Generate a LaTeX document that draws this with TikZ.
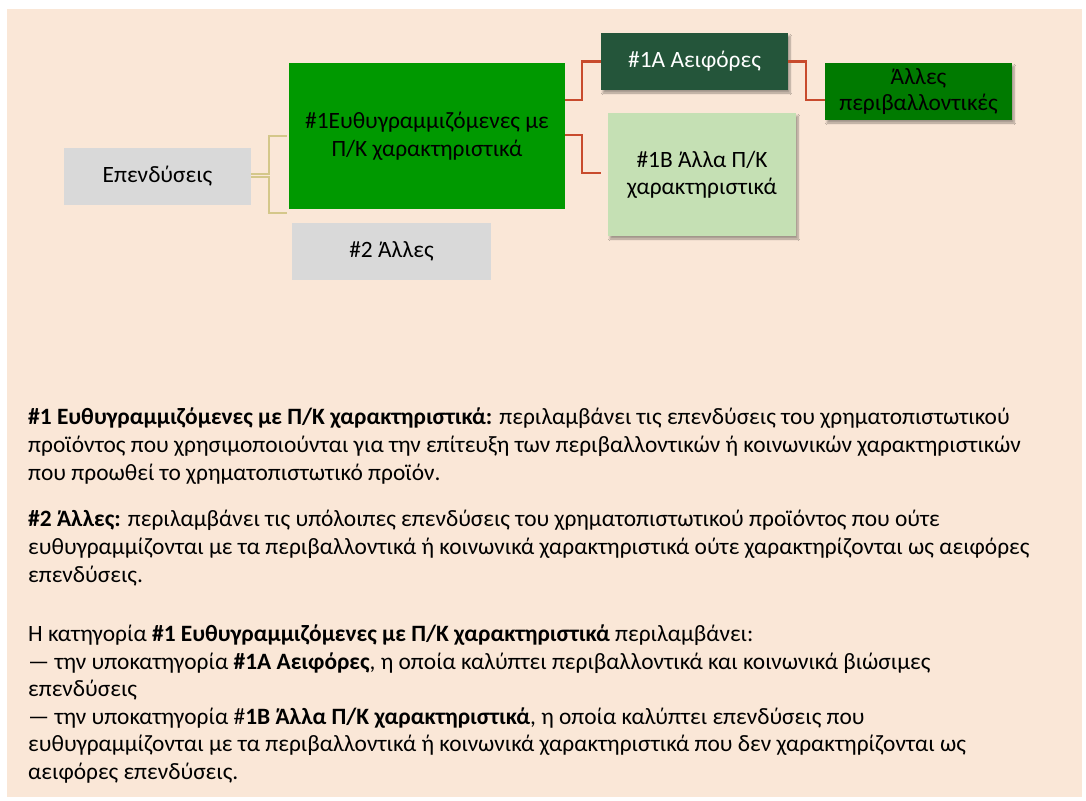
\documentclass[tikz,border=0pt]{standalone}
\usepackage{fontspec}
\setmainfont{Carlito}
\usetikzlibrary{calc,shadows.blur}
\definecolor{bgpeach}{HTML}{FAE7D7}
\definecolor{boxgray}{HTML}{D9D9D9}
\definecolor{maingreen}{HTML}{009900}
\definecolor{darkgreen}{HTML}{24553A}
\definecolor{lightgreen}{HTML}{C5E0B4}
\definecolor{envgreen}{HTML}{007A00}
\definecolor{tanline}{HTML}{D4C78A}
\definecolor{redline}{HTML}{C84B2D}
\newcommand{\bodyfont}{\fontsize{23.4}{28}\selectfont}
\tikzset{
  box/.style={rectangle, inner sep=0pt, align=center, font=\bodyfont, text=black},
  shad/.style={blur shadow={shadow xshift=2pt, shadow yshift=-3pt, shadow blur steps=6, shadow opacity=35}},
  tanconn/.style={draw=tanline, line width=2pt},
  redconn/.style={draw=redline, line width=2.5pt},
  ln/.style={anchor=base west, inner sep=0pt, font=\bodyfont, text=black}
}
\begin{document}
\begin{tikzpicture}[x=1pt, y=-1pt]
\useasboundingbox (0,0) rectangle (1086,800);
\fill[white] (0,0) rectangle (1086,800);
\fill[bgpeach] (7,9) rectangle (1082,797);

\node[box, fill=boxgray, minimum width=187pt, minimum height=57pt] (E) at (157.5,176.5) {Επενδύσεις};
\node[box, fill=maingreen, minimum width=276pt, minimum height=146pt] (M) at (427,136) {\#1Ευθυγραμμιζόμενες με\\Π/Κ χαρακτηριστικά};
\node[box, fill=boxgray, minimum width=199pt, minimum height=57pt] (T) at (391.5,251.5) {\#2 Άλλες};
\node[box, fill=darkgreen, text=white, shad, minimum width=187pt, minimum height=57pt] (A) at (694.5,61.5) {\#1A Αειφόρες};
\node[box, fill=lightgreen, shad, minimum width=188pt, minimum height=123pt] (B) at (702,174.5) {\#1B Άλλα Π/Κ\\[-1pt]χαρακτηριστικά};
\node[box, fill=envgreen, shad, minimum width=187pt, minimum height=57pt] (V) at (918.5,91.5) {Άλλες\\[-2pt]περιβαλλοντικές};

\draw[tanconn] ($(E.east)+(0,-3)$) -- ++(18,0) |- ($(M.west)+(-2,0)$);
\draw[tanconn] ($(E.east)+(0,0)$) -- ++(18,0) |- ($(M.south west)+(-2,4)$);
\draw[redconn] ($(M.east)+(0,-36)$) -- ++(17,0) |- (A.west);
\draw[redconn] ($(M.east)+(0,-1)$) -- ++(17,0) |- ($(B.west)+(-7,-1.5)$);
\draw[redconn] (A.east) -- ++(18,0) |- ($(V.west)+(0,8.5)$);

% body text
\node[ln] (p1) at (28,424) {\textbf{\#1 Ευθυγραμμιζόμενες με Π/Κ χαρακτηριστικά:} περιλαμβάνει τις επενδύσεις του χρηματοπιστωτικού};
\node[ln] (p2) at (28,452) {προϊόντος που χρησιμοποιούνται για την επίτευξη των περιβαλλοντικών ή κοινωνικών χαρακτηριστικών};
\node[ln] (p3) at (28,480) {που προωθεί το χρηματοπιστωτικό προϊόν.};
\node[ln] (q1) at (28,526) {\textbf{\#2 Άλλες:} περιλαμβάνει τις υπόλοιπες επενδύσεις του χρηματοπιστωτικού προϊόντος που ούτε};
\node[ln] (q2) at (28,554) {ευθυγραμμίζονται με τα περιβαλλοντικά ή κοινωνικά χαρακτηριστικά ούτε χαρακτηρίζονται ως αειφόρες};
\node[ln] (q3) at (28,582) {επενδύσεις.};
\node[ln] (r1) at (28,641) {Η κατηγορία \textbf{\#1 Ευθυγραμμιζόμενες με Π/Κ χαρακτηριστικά} περιλαμβάνει:};
\node[ln] (r2) at (28,669) {— την υποκατηγορία \textbf{\#1Α Αειφόρες}, η οποία καλύπτει περιβαλλοντικά και κοινωνικά βιώσιμες};
\node[ln] (r3) at (28,696) {επενδύσεις};
\node[ln] (r4) at (28,724) {— την υποκατηγορία \#\textbf{1Β Άλλα Π/Κ χαρακτηριστικά}, η οποία καλύπτει επενδύσεις που};
\node[ln] (r5) at (28,751) {ευθυγραμμίζονται με τα περιβαλλοντικά ή κοινωνικά χαρακτηριστικά που δεν χαρακτηρίζονται ως};
\node[ln] (r6) at (28,779) {αειφόρες επενδύσεις.};
\end{tikzpicture}
\end{document}
